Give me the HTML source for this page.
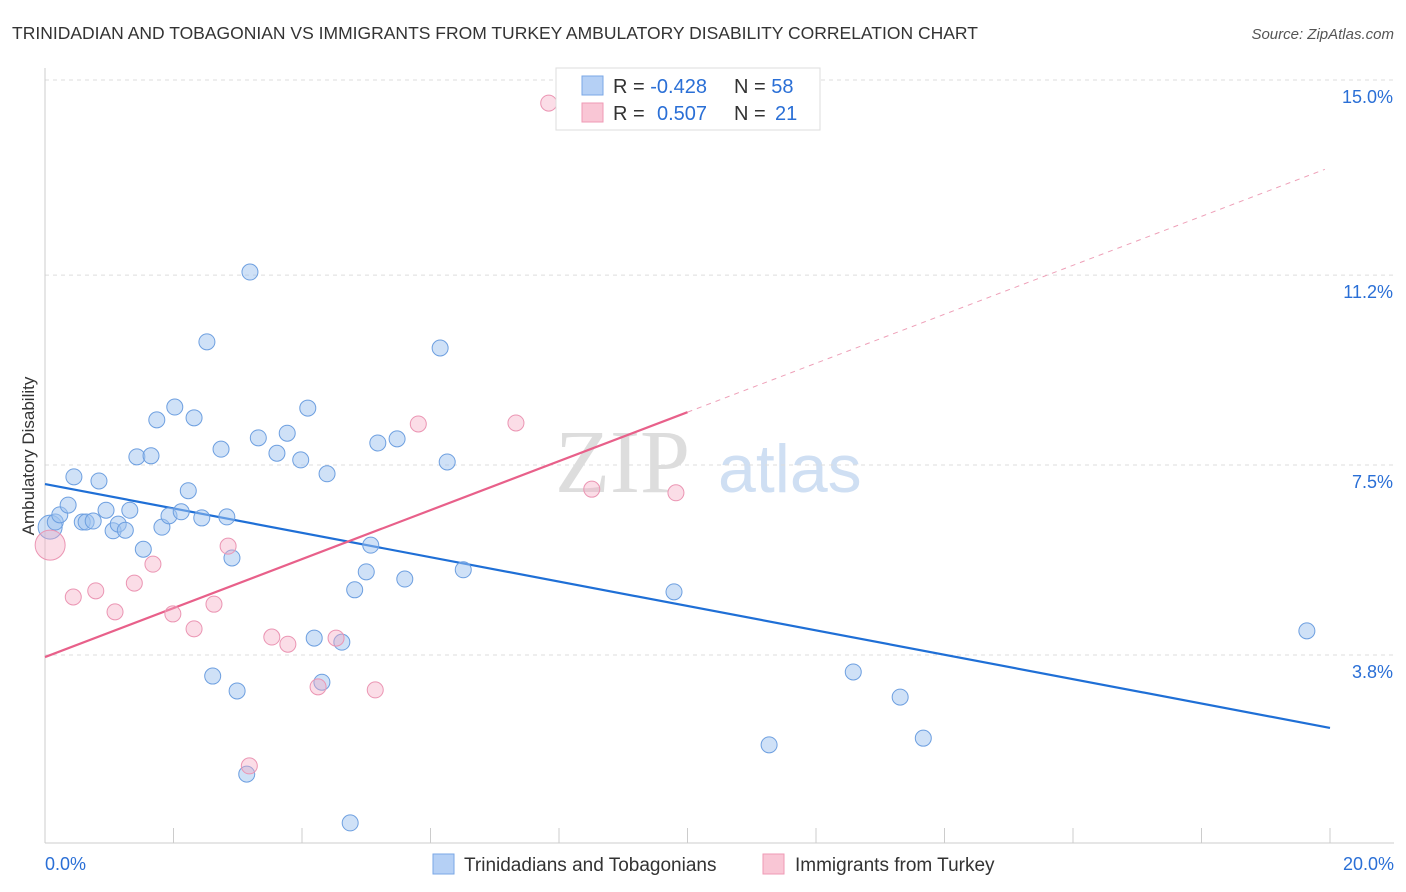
<!DOCTYPE html>
<html><head><meta charset="utf-8"><style>
body{margin:0;background:#fff;font-family:"Liberation Sans",sans-serif;}
svg{display:block}
</style></head><body>
<svg id="chart" width="1406" height="892">
<text x="12" y="39" font-size="17.5" fill="#333">TRINIDADIAN AND TOBAGONIAN VS IMMIGRANTS FROM TURKEY AMBULATORY DISABILITY CORRELATION CHART</text>
<text x="1394" y="39" font-size="15" fill="#555" font-style="italic" text-anchor="end">Source: ZipAtlas.com</text>
<text transform="translate(34,456) rotate(-90)" font-size="17" fill="#333" text-anchor="middle">Ambulatory Disability</text>
<text x="555" y="492" font-size="90" fill="#ddd" font-family="Liberation Serif,serif">ZIP</text>
<text x="718" y="492" font-size="68" fill="#cfdff3">atlas</text>
<g id="grid"></g><g id="trends"></g><g id="pts"></g>
<g>
<rect x="556" y="68" width="264" height="62" fill="#fff" stroke="#ddd"/>
<rect x="582" y="76" width="21" height="19" fill="#b5d0f5" stroke="#7aa7e6"/>
<rect x="582" y="103" width="21" height="19" fill="#f9c6d5" stroke="#ef9ab5"/>
<text x="613" y="93" font-size="20" fill="#333">R = <tspan fill="#2a6fd6">-0.428</tspan><tspan x="734">N = </tspan><tspan fill="#2a6fd6">58</tspan></text>
<text x="613" y="120" font-size="20" fill="#333">R = <tspan x="657" fill="#2a6fd6">0.507</tspan><tspan x="734">N = </tspan><tspan x="775" fill="#2a6fd6">21</tspan></text>
</g>
<g>
<rect x="433" y="854" width="21" height="20" fill="#b5d0f5" stroke="#7aa7e6"/>
<text x="464" y="871" font-size="19" fill="#333">Trinidadians and Tobagonians</text>
<rect x="763" y="854" width="21" height="20" fill="#f9c6d5" stroke="#ef9ab5"/>
<text x="795" y="871" font-size="19" fill="#333">Immigrants from Turkey</text>
</g>
</svg>
<script>
const yTicks=[15.0,11.2,7.5,3.8];
const yTickLabels=["15.0%","11.2%","7.5%","3.8%"];
const xTicks=[0,2,4,6,8,10,12,14,16,18,20];
const blueX=[0.08,0.16,0.23,0.36,0.45,0.58,0.64,0.75,0.84,0.95,1.06,1.14,1.25,1.32,1.43,1.53,1.65,1.74,1.82,1.93,2.02,2.12,2.23,2.32,2.44,2.52,2.61,2.74,2.83,2.91,2.99,3.14,3.19,3.32,3.61,3.77,3.98,4.09,4.19,4.31,4.39,4.62,4.75,4.82,5.00,5.07,5.18,5.48,5.60,6.15,6.26,6.51,9.79,11.27,12.58,13.31,13.67,19.64];
const blueY=[6.29,6.39,6.53,6.72,7.27,6.39,6.39,6.41,7.19,6.62,6.22,6.35,6.23,6.62,7.66,5.86,7.68,8.38,6.29,6.51,8.63,6.59,7.00,8.42,6.47,9.90,3.39,7.81,6.49,5.69,3.10,1.48,11.26,8.03,7.73,8.12,7.60,8.61,4.13,3.27,7.33,4.05,0.53,5.07,5.42,5.94,7.93,8.01,5.28,9.78,7.56,5.46,5.03,2.05,3.47,2.98,2.18,4.27];
const pinkX=[0.08,0.44,0.79,1.09,1.39,1.68,1.99,2.32,2.63,2.85,3.18,3.53,3.78,4.25,4.53,5.14,5.81,7.33,7.84,8.51,9.82];
const pinkY=[5.94,4.93,5.05,4.64,5.20,5.57,4.60,4.31,4.79,5.92,1.64,4.15,4.01,3.18,4.13,3.12,8.30,8.32,14.55,7.03,6.96];
const blueTrend=[[0,7.13],[20,2.38]];
const pinkTrend=[[0,3.76],[10,8.53]];
const pinkTrendExt=[[10,8.53],[19.92,13.26]];
const NS="http://www.w3.org/2000/svg";
const X=v=>45+v*64.25, Y=v=>80+(15-v)*51.34;
function mk(tag,attrs,parent){const e=document.createElementNS(NS,tag);for(const k in attrs)e.setAttribute(k,attrs[k]);document.getElementById(parent)?document.getElementById(parent).appendChild(e):parent.appendChild(e);return e;}
const svg=document.getElementById('chart');
yTicks.forEach((t,i)=>{
 const l=mk('line',{x1:45,x2:1394,y1:Y(t),y2:Y(t),stroke:'#ddd','stroke-dasharray':'4,4'},'grid');
 
 
 const tx=mk('text',{x:1393,y:Y(t)+23,'font-size':18,fill:'#2a6fd6','text-anchor':'end'},'grid');
 tx.textContent=yTickLabels[i];
 
 
});
const ax=mk('line',{x1:45,x2:45,y1:68,y2:843,stroke:'#ccc'},'grid');


const bx=mk('line',{x1:45,x2:1394,y1:843,y2:843,stroke:'#ccc'},'grid');


xTicks.forEach(t=>{
 const l=mk('line',{x1:X(t),x2:X(t),y1:828,y2:843,stroke:'#ccc'},'grid');
 
 
});
[[0,"0.0%",'start',45],[20,"20.0%",'end',1394]].forEach(a=>{
 const tx=mk('text',{x:a[3],y:870,'font-size':18,fill:'#2a6fd6','text-anchor':a[2]},'grid');
 tx.textContent=a[1];
 
 
});
function line(p,col,dash,name){const l=mk('line',{x1:X(p[0][0]),y1:Y(p[0][1]),x2:X(p[1][0]),y2:Y(p[1][1]),stroke:col,'stroke-width':dash?1:2.2,'stroke-dasharray':dash||''},'trends');
 
 }
line(blueTrend,'#1f6fd6',null,'blue-trend-line');
line(pinkTrend,'#e8608a',null,'pink-trend-line');
line(pinkTrendExt,'#eea0b8','5,5','pink-trend-extension');
blueX.forEach((v,i)=>{
 const c=mk('circle',{cx:X(v),cy:Y(blueY[i]),r:i===0?12:8,fill:'rgba(160,195,240,0.5)',stroke:'#6d9fe0','stroke-width':1},'pts');
 
 
});
pinkX.forEach((v,i)=>{
 const c=mk('circle',{cx:X(v),cy:Y(pinkY[i]),r:i===0?15:8,fill:'rgba(245,170,195,0.4)',stroke:'#eb95b3','stroke-width':1},'pts');
 
 
});
</script>
</body></html>
